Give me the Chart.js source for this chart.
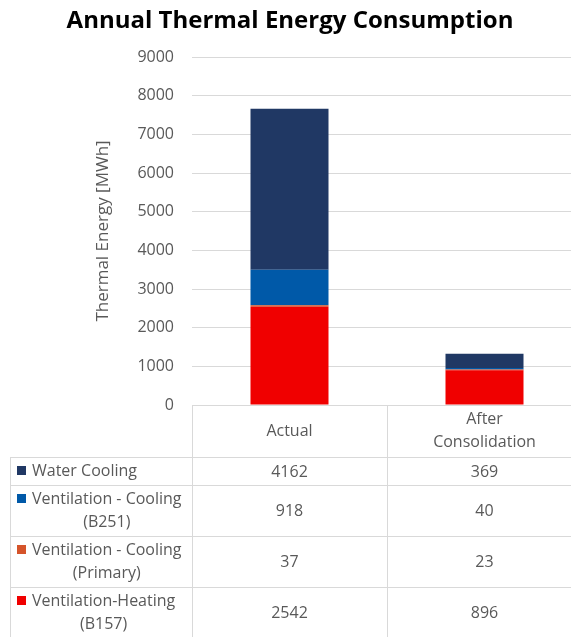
<!DOCTYPE html>
<html>
<head>
<meta charset="utf-8">
<script src="https://cdn.jsdelivr.net/npm/chart.js@4.4.0/dist/chart.umd.min.js"></script>
<style>
  html, body { margin: 0; padding: 0; background: #ffffff; overflow: hidden; }
  #wrap { position: relative; width: 582px; height: 637px; }
</style>
</head>
<body>
<div id="wrap"><canvas id="chart"></canvas></div>
<script>
// Chart title
const chartTitle = 'Annual Thermal Energy Consumption';

// Categories (column headers of the data table, split into lines)
const categories = ['Actual', 'After Consolidation'];
const categoryLines = [['Actual'], ['After', 'Consolidation']];

// Series, listed top of stack first (same order as the data table rows)
const seriesNames = [
  'Water Cooling',
  'Ventilation - Cooling (B251)',
  'Ventilation - Cooling (Primary)',
  'Ventilation-Heating (B157)'
];
const seriesLines = [
  ['Water Cooling'],
  ['Ventilation - Cooling', '(B251)'],
  ['Ventilation - Cooling', '(Primary)'],
  ['Ventilation-Heating', '(B157)']
];
const waterCooling       = [4162, 369];
const ventCoolingB251    = [918, 40];
const ventCoolingPrimary = [37, 23];
const ventHeatingB157    = [2542, 896];
const seriesValues = [waterCooling, ventCoolingB251, ventCoolingPrimary, ventHeatingB157];
const seriesColors = ['#203864', '#0059a8', '#d5542a', '#f00000'];

// Y axis ticks
const yTicks = [0, 1000, 2000, 3000, 4000, 5000, 6000, 7000, 8000, 9000];

const FONT = '"Open Sans", "DejaVu Sans", sans-serif';
const TEXT = '#595959';
const LINE = '#d9d9d9';

// Stacked bottom-up: reverse of the table order
const datasets = seriesNames.map((name, i) => ({
  label: name,
  data: seriesValues[i],
  backgroundColor: seriesColors[i],
  borderWidth: 0,
  categoryPercentage: 1,
  barPercentage: 0.4
})).reverse();

// Title centred over the whole figure (plot + data table)
const figureTitlePlugin = {
  id: 'figureTitle',
  afterDraw(chart) {
    const ctx = chart.ctx;
    ctx.save();
    ctx.fillStyle = '#000000';
    ctx.font = 'bold 24px ' + FONT;
    ctx.textAlign = 'center';
    ctx.textBaseline = 'middle';
    ctx.fillText(chartTitle, 290, 21);
    ctx.restore();
  }
};

// Data table drawn under the plot, columns aligned with the x scale
const dataTablePlugin = {
  id: 'dataTable',
  afterDraw(chart) {
    const ctx = chart.ctx;
    const area = chart.chartArea;
    const xs = chart.scales.x;
    const colW = (area.right - area.left) / categories.length;
    const tableLeft = 10;
    const headerTop = area.bottom;
    const headerH = 52;
    const lineH = 23;
    const rowPad = 5;
    ctx.save();
    ctx.strokeStyle = LINE;
    ctx.lineWidth = 1;
    ctx.fillStyle = TEXT;
    ctx.font = '16px ' + FONT;
    ctx.textBaseline = 'middle';

    // header cells
    const hb = headerTop + headerH;
    ctx.beginPath();
    ctx.moveTo(area.left, headerTop + 0.5);
    ctx.lineTo(area.right, headerTop + 0.5);
    for (let c = 0; c <= categories.length; c++) {
      const x = Math.round(area.left + c * colW) + 0.5;
      ctx.moveTo(x, headerTop);
      ctx.lineTo(x, chart.height);
    }
    ctx.moveTo(tableLeft + 0.5, hb);
    ctx.lineTo(tableLeft + 0.5, chart.height);
    ctx.stroke();

    ctx.textAlign = 'center';
    categories.forEach((cat, c) => {
      const cx = xs.getPixelForValue(c);
      const lines = categoryLines[c];
      const cy = headerTop + headerH / 2;
      lines.forEach((t, k) => {
        ctx.fillText(t, cx, cy + (k - (lines.length - 1) / 2) * lineH);
      });
    });

    // series rows
    let y = hb;
    seriesNames.forEach((name, r) => {
      const lines = seriesLines[r];
      const h = lines.length * lineH + rowPad;
      ctx.beginPath();
      ctx.moveTo(tableLeft, Math.round(y) + 0.5);
      ctx.lineTo(area.right, Math.round(y) + 0.5);
      ctx.stroke();
      const cy = y + h / 2;
      const firstY = cy - (lines.length - 1) / 2 * lineH;
      // legend key
      ctx.fillStyle = seriesColors[r];
      ctx.fillRect(tableLeft + 7, firstY - 5, 9, 9);
      ctx.fillStyle = TEXT;
      const textX = tableLeft + 22;
      const w0 = ctx.measureText(lines[0]).width;
      lines.forEach((t, k) => {
        if (k === 0) {
          ctx.textAlign = 'left';
          ctx.fillText(t, textX, firstY);
        } else {
          ctx.textAlign = 'center';
          ctx.fillText(t, textX + w0 / 2, firstY + k * lineH);
        }
      });
      ctx.textAlign = 'center';
      seriesValues[r].forEach((v, c) => {
        ctx.fillText(String(v), xs.getPixelForValue(c), cy + 1);
      });
      y += h;
    });
    ctx.beginPath();
    ctx.moveTo(tableLeft, Math.round(y) + 0.5);
    ctx.lineTo(area.right, Math.round(y) + 0.5);
    ctx.stroke();
    ctx.restore();
  }
};

new Chart(document.getElementById('chart'), {
  type: 'bar',
  data: { labels: categories, datasets },
  options: {
    responsive: true,
    maintainAspectRatio: false,
    animation: false,
    layout: { padding: { left: 93, right: 0, top: 57, bottom: 232 } },
    plugins: {
      legend: { display: false },
      tooltip: { enabled: false },
      title: { display: false }
    },
    scales: {
      x: {
        stacked: true,
        display: false
      },
      y: {
        stacked: true,
        min: 0,
        max: 9000,
        afterBuildTicks(scale) {
          scale.ticks = yTicks.map(v => ({ value: v }));
        },
        afterFit(scale) { scale.width = 99; },
        border: { display: false },
        grid: { color: LINE, drawTicks: false, lineWidth: 1 },
        ticks: {
          color: TEXT,
          padding: 18,
          font: { family: FONT, size: 16 },
          callback: v => String(v)
        },
        title: {
          display: true,
          text: 'Thermal Energy [MWh]',
          color: TEXT,
          font: { family: FONT, size: 17 },
          padding: { top: 0, bottom: 0 }
        }
      }
    }
  },
  plugins: [figureTitlePlugin, dataTablePlugin]
});
</script>
</body>
</html>
